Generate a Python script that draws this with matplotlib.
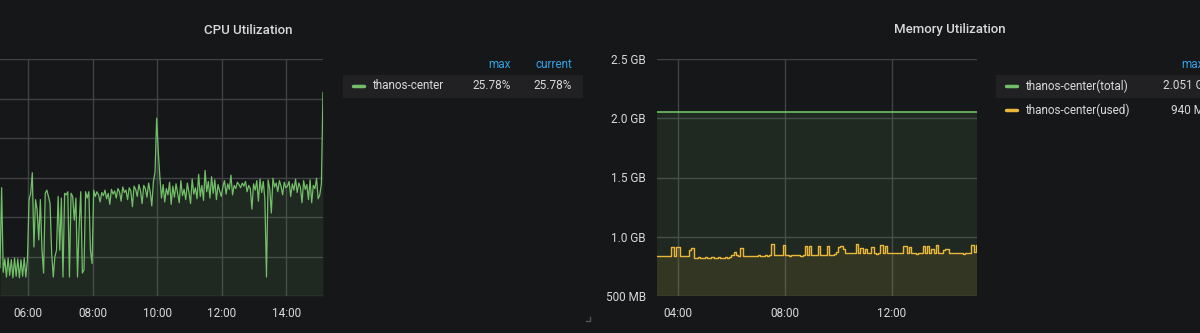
import matplotlib.pyplot as plt
import numpy as np
from matplotlib.patches import Rectangle
from matplotlib.lines import Line2D

# 颜色 (Grafana dark 主题)
BG = '#161719'
GRID = '#404244'
TEXT = '#d8d9da'
BLUE = '#33a2e5'
GREEN = '#73bf69'
YELLOW = '#eab839'
ROW_BG = '#212124'

plt.rcParams['font.family'] = ['Roboto', 'DejaVu Sans']

# ---------------- 数据 ----------------
# CPU 使用率 (%), 05:08 起每 3 分钟一个点 (面板左侧被裁掉)
cpu_start = 5 + 8 / 60
cpu_step_min = 3
cpu_values = [
    # 05:08 - 06:00
    3.6, 13.7, 3.0, 4.7, 2.4, 4.8, 2.6, 4.6, 2.3, 4.8, 2.5, 4.7, 2.3, 4.6, 2.5, 4.8, 2.4, 4.7,
    # 06:00 - 08:00
    12.2, 13.0, 15.6, 6.2, 12.2, 10.9, 7.1, 12.2, 5.8, 2.9, 13.0, 13.4, 12.6, 11.7, 5.4, 2.4,
    5.0, 5.8, 12.6, 5.8, 12.4, 2.4, 13.0, 12.8, 13.2, 2.4, 13.0, 12.6, 9.6, 12.4, 2.4, 8.8,
    13.2, 2.9, 3.3, 13.2, 12.4, 13.2, 5.8, 4.1,
    # 08:00 - 10:00
    13.4, 12.6, 13.2, 12.8, 11.9, 13.1, 12.7, 13.4, 12.3, 13.0, 11.6, 13.5, 12.9, 13.3, 12.4,
    13.6, 13.2, 12.0, 13.8, 13.1, 13.4, 12.2, 13.7, 13.3, 11.3, 13.9, 13.5, 12.6, 14.1, 13.3,
    11.7, 14.0, 13.6, 12.5, 14.3, 13.2, 11.4, 14.5, 15.7, 22.5, 18.3,
    # 10:00 - 12:00
    15.0, 12.4, 14.1, 11.9, 13.6, 12.8, 14.4, 11.6, 13.9, 12.5, 14.2, 13.0, 11.8, 14.6, 12.7,
    13.5, 12.2, 14.3, 13.1, 11.7, 14.8, 12.9, 13.7, 12.3, 15.4, 12.6, 14.0, 12.1, 15.9, 13.2,
    14.5, 12.4, 15.1, 13.0, 14.7, 12.2, 14.1, 13.3, 12.6,
    # 12:00 - 14:00
    13.8, 14.6, 12.9, 14.2, 13.5, 15.3, 12.8, 14.0, 13.6, 14.4, 14.1, 13.7, 14.3, 13.9, 14.5,
    13.2, 14.0, 13.6, 11.0, 14.2, 13.4, 14.6, 12.0, 14.8, 13.1, 14.5, 12.3, 2.4, 14.7, 13.6,
    10.5, 14.9, 13.8, 14.3, 13.2, 14.6, 13.9, 12.8, 14.4, 13.7,
    # 14:00 - 15:08
    13.9, 14.5, 12.6, 14.2, 13.4, 14.8, 13.1, 14.3, 13.8, 11.8, 14.6, 13.5, 14.1, 12.2, 14.7,
    11.8, 14.0, 13.6, 14.9, 12.3, 12.8, 14.2, 25.78,
]
cpu_yticks = [0, 5, 10, 15, 20, 25, 30]
cpu_xticks = [6, 8, 10, 12, 14]
cpu_xlabels = ['06:00', '08:00', '10:00', '12:00', '14:00']
cpu_legend_name = 'thanos-center'
cpu_legend_max = '25.78%'
cpu_legend_current = '25.78%'

# 内存 (MB), 03:12 起每 5 分钟一个点
mem_start = 3.2
mem_step_min = 5
mem_total_value = 2051
mem_used = [
    840, 840, 841, 840, 840, 839, 840, 911, 840, 917, 917, 838, 836, 837, 836, 889, 903,
    824, 823, 830, 823, 823, 830, 823, 824, 830, 823, 823, 830, 823, 824, 830, 823, 826,
    848, 869, 850, 840, 908,
    839, 838, 840, 838, 841, 839, 840, 842, 838, 841, 843, 840, 842,
    940, 844, 843, 845, 844, 928,
    845, 846, 836, 846, 845, 847, 846, 838, 847,
    920, 846, 920, 848, 847, 848, 925, 848, 849, 848, 920, 850, 842, 851,
    872, 912, 922, 898, 864, 862, 863, 865, 863,
    940, 862, 905, 863, 900, 865, 864, 917, 866, 858, 865,
    934, 865, 926, 866, 865, 867, 865, 866, 864, 866,
    926, 926, 865, 917, 866, 865, 857, 866, 865, 926, 866, 926, 865, 900, 865, 934,
    866, 866, 886, 900, 896,
    863, 862, 863, 864, 862, 863, 855, 863, 864, 863, 934, 868, 930,
]
mem_yticks = [500, 1000, 1500, 2000, 2500]
mem_ylabels = ['500 MB', '1.0 GB', '1.5 GB', '2.0 GB', '2.5 GB']
mem_xticks = [4, 8, 12]
mem_xlabels = ['04:00', '08:00', '12:00']
mem_legend_names = ['thanos-center(total)', 'thanos-center(used)']
mem_legend_max = ['2.051 GB', '940 MB']

# ---------------- 画布 ----------------
W, H = 1200, 333
fig = plt.figure(figsize=(W / 100, H / 100), dpi=100, facecolor=BG)


def px_axes(left, top, right, bottom):
    """按像素位置添加坐标轴"""
    return fig.add_axes([left / W, 1 - bottom / H, (right - left) / W, (bottom - top) / H])


def ftext(x, y, s, **kw):
    """按像素位置写文字"""
    kw.setdefault('color', TEXT)
    kw.setdefault('fontsize', 8.5)
    kw.setdefault('va', 'center')
    fig.text(x / W, 1 - y / H, s, **kw)


def frect(x0, y0, x1, y1, color):
    fig.patches.append(Rectangle((x0 / W, 1 - y1 / H), (x1 - x0) / W, (y1 - y0) / H,
                                 transform=fig.transFigure, color=color, zorder=0))


def style_axes(ax):
    ax.set_facecolor(BG)
    for s in ax.spines.values():
        s.set_visible(False)
    ax.grid(True, color=GRID, lw=1)
    ax.set_axisbelow(True)
    ax.tick_params(length=0, colors=TEXT, labelsize=8.5, pad=8)


# ---------------- CPU ----------------
cpu_t = cpu_start + np.arange(len(cpu_values)) * cpu_step_min / 60
ax1 = px_axes(0, 59, 323, 296)
style_axes(ax1)
ax1.fill_between(cpu_t, 0, cpu_values, color=GREEN, alpha=0.1, lw=0)
ax1.plot(cpu_t, cpu_values, color=GREEN, lw=0.9)
ax1.set_xlim(cpu_t[0], cpu_t[-1])
ax1.set_ylim(0, 30)
ax1.set_yticks(cpu_yticks)
ax1.set_yticklabels([])
ax1.set_xticks(cpu_xticks)
ax1.set_xticklabels(cpu_xlabels)

ftext(248, 30, 'CPU Utilization', ha='center', fontsize=9.5, fontweight='medium')

# CPU 图例表
ftext(511, 64, 'max', ha='right', color=BLUE)
ftext(572, 64, 'current', ha='right', color=BLUE)
frect(343, 75, 582, 97, ROW_BG)
fig.lines.append(Line2D([353 / W, 364 / W], [1 - 86 / H] * 2, transform=fig.transFigure,
                        color=GREEN, lw=2.5, solid_capstyle='round'))
ftext(372, 86, cpu_legend_name)
ftext(511, 86, cpu_legend_max, ha='right')
ftext(572, 86, cpu_legend_current, ha='right')

# 面板右下角的缩放标记
fig.lines.append(Line2D([586 / W, 590 / W, 590 / W], [1 - 321 / H, 1 - 321 / H, 1 - 317 / H],
                        transform=fig.transFigure, color='#555555', lw=1))

# ---------------- 内存 ----------------
mem_t = mem_start + np.arange(len(mem_used)) * mem_step_min / 60
mem_total = np.full(len(mem_used), mem_total_value)
ax2 = px_axes(657, 59, 977, 296)
style_axes(ax2)
ax2.fill_between(mem_t, 500, mem_total, color=GREEN, alpha=0.1, lw=0, step='mid')
ax2.fill_between(mem_t, 500, mem_used, color=YELLOW, alpha=0.1, lw=0, step='mid')
ax2.plot(mem_t, mem_total, color=GREEN, lw=1.2, drawstyle='steps-mid')
ax2.plot(mem_t, mem_used, color=YELLOW, lw=1, drawstyle='steps-mid')
ax2.set_xlim(mem_t[0], mem_t[-1])
ax2.set_ylim(500, 2500)
ax2.set_yticks(mem_yticks)
ax2.set_yticklabels(mem_ylabels)
ax2.set_xticks(mem_xticks)
ax2.set_xticklabels(mem_xlabels)

ftext(950, 30, 'Memory Utilization', ha='center', fontsize=9.5, fontweight='medium')

# 内存图例表 (右侧被面板边缘裁掉, 与原图一致)
ftext(1204, 64, 'max', ha='right', color=BLUE)
frect(996, 75, 1200, 97, ROW_BG)
for k, (name, val, col) in enumerate(zip(mem_legend_names, mem_legend_max, [GREEN, YELLOW])):
    yy = 86 + k * 24
    fig.lines.append(Line2D([1006 / W, 1017 / W], [1 - yy / H] * 2, transform=fig.transFigure,
                            color=col, lw=2.5, solid_capstyle='round'))
    ftext(1025, yy, name)
    ftext(1211, yy, val, ha='right')

fig.savefig('out.png', dpi=100, facecolor=BG)
